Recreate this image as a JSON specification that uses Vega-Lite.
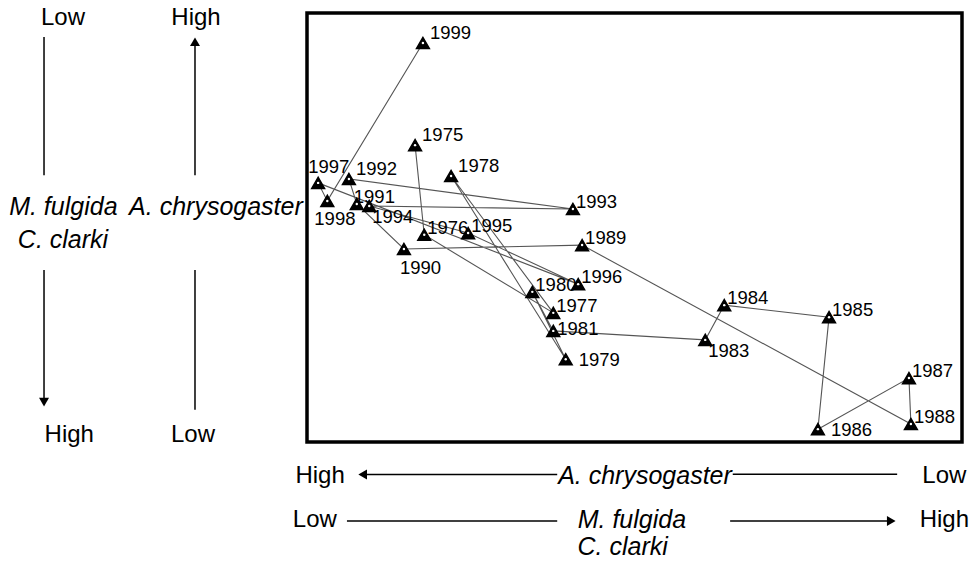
{
  "$schema": "https://vega.github.io/schema/vega-lite/v6.json",
  "width": 655,
  "height": 429,
  "autosize": {"type": "none"},
  "padding": {"left": 307, "top": 13, "right": 12, "bottom": 121},
  "background": "white",
  "config": {
    "view": {"stroke": "black", "strokeWidth": 3.5},
    "text": {"font": "Liberation Sans"}
  },
  "datasets": {
    "pts": [
      {"year": 1975, "x": 16.5, "y": 69.2},
      {"year": 1976, "x": 17.9, "y": 48.3},
      {"year": 1977, "x": 37.6, "y": 30.1},
      {"year": 1978, "x": 22.0, "y": 62.0},
      {"year": 1979, "x": 39.5, "y": 19.3},
      {"year": 1980, "x": 34.4, "y": 35.0},
      {"year": 1981, "x": 37.6, "y": 25.9},
      {"year": 1983, "x": 60.8, "y": 23.8},
      {"year": 1984, "x": 63.7, "y": 31.9},
      {"year": 1985, "x": 79.7, "y": 29.1},
      {"year": 1986, "x": 78.0, "y": 3.0},
      {"year": 1987, "x": 91.9, "y": 14.9},
      {"year": 1988, "x": 92.2, "y": 4.2},
      {"year": 1989, "x": 42.0, "y": 45.9},
      {"year": 1990, "x": 14.8, "y": 45.0},
      {"year": 1991, "x": 7.6, "y": 55.5},
      {"year": 1992, "x": 6.4, "y": 61.3},
      {"year": 1993, "x": 40.6, "y": 54.3},
      {"year": 1994, "x": 9.5, "y": 55.0},
      {"year": 1995, "x": 24.6, "y": 48.7},
      {"year": 1996, "x": 41.4, "y": 36.8},
      {"year": 1997, "x": 1.7, "y": 60.4},
      {"year": 1998, "x": 3.1, "y": 56.2},
      {"year": 1999, "x": 17.7, "y": 93.0}
    ],
    "seg": [
      {"x": -40.15, "x2": -40.15, "y": 94.4, "y2": 62.2},
      {"x": -17.1, "x2": -17.1, "y": 62.2, "y2": 93.0},
      {"x": -40.15, "x2": -40.15, "y": 40.1, "y2": 9.5},
      {"x": -17.1, "x2": -17.1, "y": 40.1, "y2": 7.5},
      {"x": 9.0, "x2": 38.2, "y": -7.6, "y2": -7.6},
      {"x": 65.0, "x2": 90.1, "y": -7.5, "y2": -7.5},
      {"x": 6.1, "x2": 38.2, "y": -18.4, "y2": -18.4},
      {"x": 64.6, "x2": 88.8, "y": -18.4, "y2": -18.4}
    ],
    "heads": [
      {"dir": "up", "x": -17.1, "y": 93.3},
      {"dir": "down", "x": -40.15, "y": 9.3},
      {"dir": "left", "x": 8.5, "y": -7.6},
      {"dir": "right", "x": 89.2, "y": -18.4}
    ],
    "ann": [
      {"text": "Low", "kind": "level", "x": -37.25, "y": 98.8},
      {"text": "High", "kind": "level", "x": -16.95, "y": 98.8},
      {"text": "High", "kind": "level", "x": -36.3, "y": 1.6},
      {"text": "Low", "kind": "level", "x": -17.4, "y": 1.6},
      {"text": "High", "kind": "level", "x": 2.0, "y": -8.0},
      {"text": "Low", "kind": "level", "x": 97.3, "y": -8.0},
      {"text": "Low", "kind": "level", "x": 1.2, "y": -18.2},
      {"text": "High", "kind": "level", "x": 97.3, "y": -18.2},
      {"text": "M. fulgida", "kind": "species", "x": -37.2, "y": 54.8},
      {"text": "C. clarki", "kind": "species", "x": -37.25, "y": 47.1},
      {"text": "A. chrysogaster", "kind": "species", "x": -13.9, "y": 54.8},
      {"text": "A. chrysogaster", "kind": "species", "x": 51.6, "y": -8.0},
      {"text": "M. fulgida", "kind": "species", "x": 49.6, "y": -18.2},
      {"text": "C. clarki", "kind": "species", "x": 48.2, "y": -24.5}
    ]
  },
  "encoding": {
    "x": {"field": "x", "type": "quantitative", "scale": {"domain": [0, 100], "nice": false, "zero": false}, "axis": null},
    "y": {"field": "y", "type": "quantitative", "scale": {"domain": [0, 100], "nice": false, "zero": false}, "axis": null}
  },
  "layer": [
    {
      "data": {"name": "seg"},
      "mark": {"type": "rule", "color": "black", "strokeWidth": 1.5},
      "encoding": {"x2": {"field": "x2"}, "y2": {"field": "y2"}}
    },
    {
      "data": {"name": "heads"},
      "transform": [{"filter": "datum.dir === 'up'"}],
      "mark": {"type": "point", "shape": "triangle-up", "filled": true, "color": "black", "opacity": 1, "size": 100}
    },
    {
      "data": {"name": "heads"},
      "transform": [{"filter": "datum.dir === 'down'"}],
      "mark": {"type": "point", "shape": "triangle-down", "filled": true, "color": "black", "opacity": 1, "size": 100}
    },
    {
      "data": {"name": "heads"},
      "transform": [{"filter": "datum.dir === 'left'"}],
      "mark": {"type": "point", "shape": "triangle-left", "filled": true, "color": "black", "opacity": 1, "size": 100}
    },
    {
      "data": {"name": "heads"},
      "transform": [{"filter": "datum.dir === 'right'"}],
      "mark": {"type": "point", "shape": "triangle-right", "filled": true, "color": "black", "opacity": 1, "size": 100}
    },
    {
      "data": {"name": "ann"},
      "transform": [{"filter": "datum.kind === 'level'"}],
      "mark": {"type": "text", "fontSize": 24, "color": "black", "align": "center", "baseline": "middle"},
      "encoding": {"text": {"field": "text"}}
    },
    {
      "data": {"name": "ann"},
      "transform": [{"filter": "datum.kind === 'species'"}],
      "mark": {"type": "text", "fontSize": 25, "fontStyle": "italic", "color": "black", "align": "center", "baseline": "middle"},
      "encoding": {"text": {"field": "text"}}
    },
    {
      "data": {"name": "pts"},
      "mark": {"type": "line", "color": "#555555", "strokeWidth": 1.1},
      "encoding": {"order": {"field": "year", "type": "quantitative"}}
    },
    {
      "data": {"name": "pts"},
      "transform": [{"filter": {"field": "year", "oneOf": [1976, 1995, 1989, 1996, 1980, 1977, 1984, 1987, 1988, 1993, 1985]}}],
      "mark": {"type": "text", "fontSize": 18.5, "align": "left", "baseline": "middle", "dx": 3, "dy": -7, "color": "black"},
      "encoding": {"text": {"field": "year", "type": "nominal"}}
    },
    {
      "data": {"name": "pts"},
      "transform": [{"filter": {"field": "year", "oneOf": [1975, 1978, 1999, 1992]}}],
      "mark": {"type": "text", "fontSize": 18.5, "align": "left", "baseline": "middle", "dx": 7, "dy": -10, "color": "black"},
      "encoding": {"text": {"field": "year", "type": "nominal"}}
    },
    {
      "data": {"name": "pts"},
      "transform": [{"filter": {"field": "year", "oneOf": [1979, 1986]}}],
      "mark": {"type": "text", "fontSize": 18.5, "align": "left", "baseline": "middle", "dx": 13, "dy": 1, "color": "black"},
      "encoding": {"text": {"field": "year", "type": "nominal"}}
    },
    {
      "data": {"name": "pts"},
      "transform": [{"filter": {"field": "year", "oneOf": [1981]}}],
      "mark": {"type": "text", "fontSize": 18.5, "align": "left", "baseline": "middle", "dx": 4, "dy": -2, "color": "black"},
      "encoding": {"text": {"field": "year", "type": "nominal"}}
    },
    {
      "data": {"name": "pts"},
      "transform": [{"filter": {"field": "year", "oneOf": [1994, 1983]}}],
      "mark": {"type": "text", "fontSize": 18.5, "align": "left", "baseline": "middle", "dx": 3, "dy": 11, "color": "black"},
      "encoding": {"text": {"field": "year", "type": "nominal"}}
    },
    {
      "data": {"name": "pts"},
      "transform": [{"filter": {"field": "year", "oneOf": [1998]}}],
      "mark": {"type": "text", "fontSize": 18.5, "align": "left", "baseline": "middle", "dx": -13, "dy": 18, "color": "black"},
      "encoding": {"text": {"field": "year", "type": "nominal"}}
    },
    {
      "data": {"name": "pts"},
      "transform": [{"filter": {"field": "year", "oneOf": [1990]}}],
      "mark": {"type": "text", "fontSize": 18.5, "align": "left", "baseline": "middle", "dx": -4, "dy": 19, "color": "black"},
      "encoding": {"text": {"field": "year", "type": "nominal"}}
    },
    {
      "data": {"name": "pts"},
      "transform": [{"filter": {"field": "year", "oneOf": [1997]}}],
      "mark": {"type": "text", "fontSize": 18.5, "align": "left", "baseline": "middle", "dx": -10, "dy": -16, "color": "black"},
      "encoding": {"text": {"field": "year", "type": "nominal"}}
    },
    {
      "data": {"name": "pts"},
      "transform": [{"filter": {"field": "year", "oneOf": [1991]}}],
      "mark": {"type": "text", "fontSize": 18.5, "align": "left", "baseline": "middle", "dx": -3, "dy": -7, "color": "black"},
      "encoding": {"text": {"field": "year", "type": "nominal"}}
    },
    {
      "data": {"name": "pts"},
      "mark": {"type": "point", "shape": "triangle-up", "filled": true, "color": "black", "stroke": "black", "strokeWidth": 1.5, "opacity": 1, "size": 165}
    },
    {
      "data": {"name": "pts"},
      "mark": {"type": "point", "shape": "circle", "filled": true, "color": "white", "opacity": 1, "size": 6}
    }
  ]
}
